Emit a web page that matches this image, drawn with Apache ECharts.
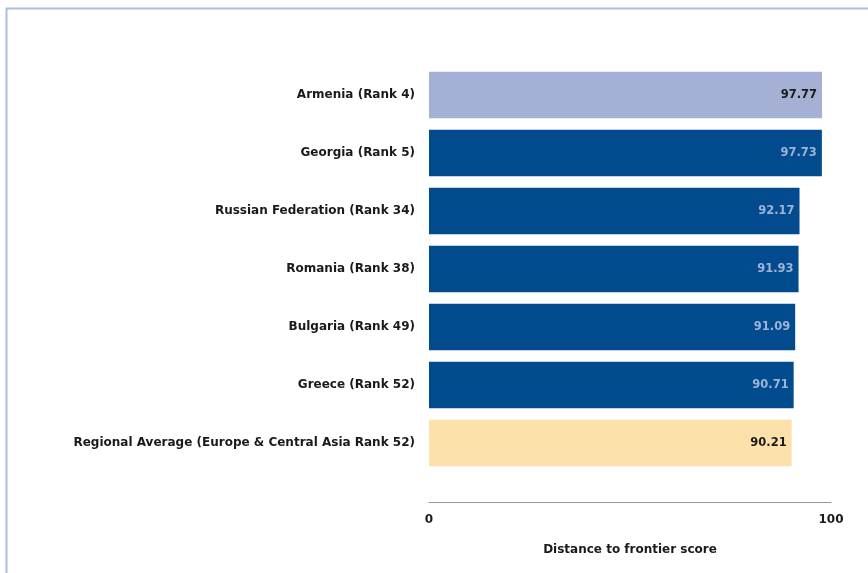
<!DOCTYPE html>
<html><head><meta charset="utf-8">
<script src="https://cdn.jsdelivr.net/npm/echarts@6/dist/echarts.min.js"></script>
<style>html,body{margin:0;padding:0;background:#fff}#c{width:868px;height:573px}</style>
</head><body><div id="c"></div>
<script>
const categories = ["Armenia (Rank 4)","Georgia (Rank 5)","Russian Federation (Rank 34)","Romania (Rank 38)","Bulgaria (Rank 49)","Greece (Rank 52)","Regional Average (Europe & Central Asia Rank 52)"];
const values = [97.77,97.73,92.17,91.93,91.09,90.71,90.21];
const xTicks = [0,100];
const barColors = ["#a5b1d4","#024b8e","#024b8e","#024b8e","#024b8e","#024b8e","#fde1ab"];
const labelColors = ["#1a1a1a","#9fb3d9","#9fb3d9","#9fb3d9","#9fb3d9","#9fb3d9","#1a1a1a"];
const FONT = 'DejaVu Sans';
const chart = echarts.init(document.getElementById('c'));
chart.setOption({
  animation:false,
  graphic:[{type:'rect',shape:{x:6.5,y:8.5,width:900,height:600},style:{fill:'none',stroke:'#a9bfdc',lineWidth:2}}],
  grid:{left:429,top:66,width:402,height:406},
  xAxis:{type:'value',min:xTicks[0],max:xTicks[1],interval:100,offset:30,
    axisLine:{show:true,lineStyle:{color:'#999',width:1}},axisTick:{show:false},splitLine:{show:false},
    axisLabel:{fontFamily:FONT,fontWeight:'bold',fontSize:12,color:'#1a1a1a',margin:12},
    name:'Distance to frontier score',nameLocation:'middle',nameGap:42,
    nameTextStyle:{fontFamily:FONT,fontWeight:'bold',fontSize:12,color:'#1a1a1a'}},
  yAxis:{type:'category',inverse:true,data:categories,axisLine:{show:false},axisTick:{show:false},
    axisLabel:{fontFamily:FONT,fontWeight:'bold',fontSize:12,color:'#1a1a1a',margin:14}},
  series:[{type:'bar',barCategoryGap:'20%',
    data:values.map((v,i)=>({value:v,itemStyle:{color:barColors[i]},label:{color:labelColors[i]}})),
    label:{show:true,position:'insideRight',offset:[0,0],fontFamily:FONT,fontWeight:'bold',fontSize:11.5,formatter:p=>p.value.toFixed(2)}}]
});
</script></body></html>
